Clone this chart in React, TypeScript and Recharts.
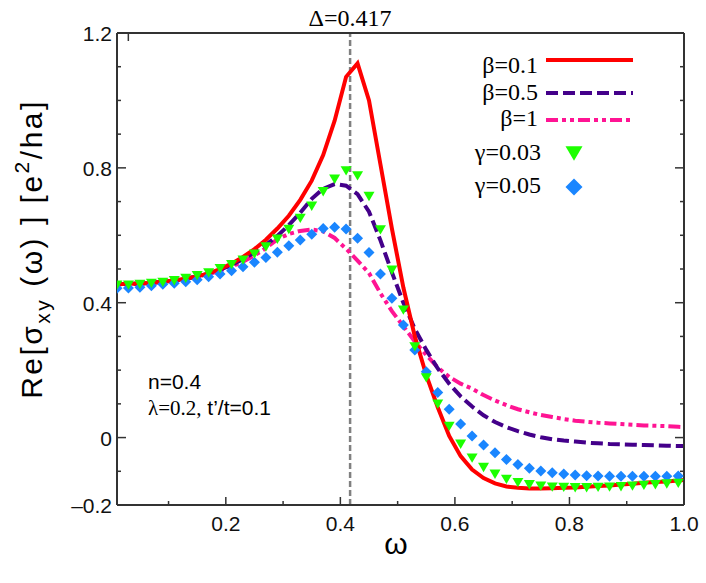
import { LineChart, Line, XAxis, YAxis, ReferenceLine } from 'recharts'

// frequency grid (markers use the first 50 points)
const OMEGA = [
  0.01, 0.03, 0.05, 0.07, 0.09, 0.11, 0.13, 0.15, 0.17, 0.19,
  0.21, 0.23, 0.25, 0.27, 0.29, 0.31, 0.33, 0.35, 0.37, 0.39,
  0.41, 0.43, 0.45, 0.47, 0.49, 0.51, 0.53, 0.55, 0.57, 0.59,
  0.61, 0.63, 0.65, 0.67, 0.69, 0.71, 0.73, 0.75, 0.77, 0.79,
  0.81, 0.83, 0.85, 0.87, 0.89, 0.91, 0.93, 0.95, 0.97, 0.99, 1.0,
]

const BETA_01 = [
  0.455, 0.456, 0.457, 0.459, 0.462, 0.466, 0.471, 0.478, 0.487, 0.5,
  0.516, 0.536, 0.559, 0.587, 0.62, 0.658, 0.705, 0.762, 0.838, 0.94,
  1.07, 1.11, 1.0, 0.81, 0.62, 0.445, 0.3, 0.185, 0.09, 0.005,
  -0.055, -0.095, -0.12, -0.136, -0.145, -0.149, -0.151, -0.151, -0.15, -0.149,
  -0.148, -0.146, -0.144, -0.142, -0.139, -0.137, -0.134, -0.132, -0.13, -0.127, -0.126,
]

const BETA_05 = [
  0.455, 0.456, 0.457, 0.459, 0.462, 0.466, 0.471, 0.478, 0.486, 0.498,
  0.512, 0.529, 0.549, 0.572, 0.598, 0.63, 0.667, 0.708, 0.738, 0.752,
  0.747, 0.722, 0.67, 0.585, 0.49, 0.4, 0.322, 0.26, 0.205, 0.16,
  0.122, 0.092, 0.066, 0.046, 0.031, 0.019, 0.009, 0.001, -0.005, -0.009,
  -0.012, -0.015, -0.017, -0.019, -0.02, -0.021, -0.022, -0.023, -0.024, -0.025, -0.025,
]

const BETA_1 = [
  0.455, 0.456, 0.457, 0.459, 0.462, 0.466, 0.471, 0.477, 0.485, 0.495,
  0.507, 0.522, 0.54, 0.562, 0.588, 0.604, 0.613, 0.617, 0.612, 0.592,
  0.56, 0.525, 0.488, 0.428, 0.375, 0.33, 0.285, 0.245, 0.208, 0.18,
  0.16, 0.145, 0.126, 0.11, 0.096, 0.084, 0.075, 0.067, 0.061, 0.055,
  0.05, 0.047, 0.044, 0.042, 0.04, 0.038, 0.036, 0.035, 0.034, 0.032, 0.031,
]

const GAMMA_003 = [
  0.453, 0.453, 0.455, 0.458, 0.461, 0.466, 0.473, 0.481, 0.489, 0.502,
  0.514, 0.527, 0.545, 0.566, 0.589, 0.618, 0.651, 0.687, 0.73, 0.767,
  0.792, 0.777, 0.716, 0.617, 0.497, 0.379, 0.27, 0.178, 0.1, 0.034,
  -0.019, -0.06, -0.088, -0.108, -0.123, -0.133, -0.139, -0.143, -0.146, -0.147,
  -0.148, -0.148, -0.147, -0.146, -0.145, -0.143, -0.141, -0.139, -0.137, -0.135,
]

const GAMMA_005 = [
  0.443, 0.444, 0.446, 0.45, 0.455, 0.458, 0.462, 0.468, 0.477, 0.485,
  0.495, 0.507, 0.52, 0.534, 0.55, 0.569, 0.586, 0.603, 0.62, 0.624,
  0.619, 0.591, 0.549, 0.485, 0.413, 0.334, 0.26, 0.195, 0.134, 0.084,
  0.04, 0.005, -0.022, -0.045, -0.065, -0.08, -0.091, -0.099, -0.104, -0.108,
  -0.111, -0.113, -0.114, -0.115, -0.115, -0.115, -0.115, -0.115, -0.115, -0.114,
]

const X_TICKS = [0.1, 0.2, 0.3, 0.4, 0.5, 0.6, 0.7, 0.8, 0.9, 1.0]
const X_LABELS = [0.2, 0.4, 0.6, 0.8, 1.0]
const Y_TICKS = [-0.2, -0.1, 0, 0.1, 0.2, 0.3, 0.4, 0.5, 0.6, 0.7, 0.8, 0.9, 1.0, 1.1, 1.2]
const Y_LABELS = [-0.2, 0, 0.4, 0.8, 1.2]

const SANS = 'Liberation Sans, Arial, Helvetica, sans-serif'
const SERIF = "'Liberation Serif', 'DejaVu Serif', 'Times New Roman', Times, serif"
const AXIS = '#333'
const RED = '#ff0000'
const PURPLE = '#44008a'
const PINK = '#ff1493'
const GREEN = '#1cff00'
const BLUE = '#1a86ff'

const rows = OMEGA.map((w, i) => ({
  w,
  b01: BETA_01[i],
  b05: BETA_05[i],
  b1: BETA_1[i],
  g003: GAMMA_003[i] ?? null,
  g005: GAMMA_005[i] ?? null,
}))

const has = (list: number[], v: number) => list.some((t) => Math.abs(t - v) < 1e-6)
const fmtY = (v: number) => (Math.abs(v) < 1e-6 ? '0' : v < 0 ? '\u2013' + Math.abs(v).toFixed(1) : v.toFixed(1))

function BottomTick({ x, y, payload }: any) {
  const major = has(X_LABELS, payload.value)
  return (
    <g>
      <line x1={x} x2={x} y1={y} y2={y - (major ? 8 : 4)} stroke={AXIS} strokeWidth={1.5} />
      {major && (
        <text x={x} y={y + 26} textAnchor="middle" fontFamily={SANS} fontSize={21} fill="#111">
          {payload.value.toFixed(1)}
        </text>
      )}
    </g>
  )
}

function TopTick({ x, y, payload }: any) {
  const major = has(X_LABELS, payload.value)
  return <line x1={x} x2={x} y1={y} y2={y + (major ? 8 : 4)} stroke={AXIS} strokeWidth={1.5} />
}

function LeftTick({ x, y, payload }: any) {
  const labelled = has(Y_LABELS, payload.value)
  const major = labelled && payload.value > -0.15
  return (
    <g>
      <line x1={x} x2={x + (major ? 9 : 4)} y1={y} y2={y} stroke={AXIS} strokeWidth={1.5} />
      {labelled && (
        <text x={x - 5} y={y + 8} textAnchor="end" fontFamily={SANS} fontSize={21} fill="#111">
          {fmtY(payload.value)}
        </text>
      )}
    </g>
  )
}

function RightTick({ x, y, payload }: any) {
  const major = has(Y_LABELS, payload.value)
  return <line x1={x} x2={x - (major ? 9 : 4)} y1={y} y2={y} stroke={AXIS} strokeWidth={1.5} />
}

function TriangleDot({ cx, cy, value, size = 5.5 }: any) {
  if (value == null || cy == null) return null
  const s = size
  return (
    <path d={`M${cx - s},${cy - s * 0.8} L${cx + s},${cy - s * 0.8} L${cx},${cy + s * 0.9} Z`} fill={GREEN} />
  )
}

function DiamondDot({ cx, cy, value, size = 5.5 }: any) {
  if (value == null || cy == null) return null
  const s = size
  return <path d={`M${cx},${cy - s} L${cx + s},${cy} L${cx},${cy + s} L${cx - s},${cy} Z`} fill={BLUE} />
}

const serifStyle = { fontFamily: SERIF, fontSize: 24 }

function LegendBox() {
  return (
    <g fill="#000" textAnchor="end">
      <text x={538} y={73} style={serifStyle}>β=0.1</text>
      <line x1={546} x2={633} y1={60} y2={60} stroke={RED} strokeWidth={4} />
      <text x={538} y={100} style={serifStyle}>β=0.5</text>
      <line x1={546} x2={633} y1={93} y2={93} stroke={PURPLE} strokeWidth={4} strokeDasharray="12 5" />
      <text x={538} y={126} style={serifStyle}>β=1</text>
      <line x1={546} x2={633} y1={120} y2={120} stroke={PINK} strokeWidth={4} strokeDasharray="12 4 4 4 4 4" />
      <text x={541} y={160} style={serifStyle}>γ=0.03</text>
      <TriangleDot cx={574} cy={153} value={1} size={8.5} />
      <text x={541} y={193} style={serifStyle}>γ=0.05</text>
      <DiamondDot cx={574} cy={187} value={1} size={8.5} />
    </g>
  )
}

export default function App() {
  return (
    <div style={{ position: 'absolute', left: 0, top: 0, width: 706, height: 583, background: '#fff' }}>
      <LineChart width={706} height={583} data={rows} margin={{ top: 0, right: 0, bottom: 0, left: 0 }}>
        <XAxis
          dataKey="w"
          type="number"
          domain={[0.01, 1]}
          allowDataOverflow
          ticks={X_TICKS}
          height={78}
          tickSize={0}
          tickMargin={0}
          tickLine={false}
          tick={<BottomTick />}
          axisLine={{ stroke: AXIS, strokeWidth: 2 }}
        />
        <XAxis
          xAxisId="top"
          orientation="top"
          type="number"
          domain={[0.01, 1]}
          allowDataOverflow
          ticks={X_TICKS}
          height={33}
          tickSize={0}
          tickMargin={0}
          tickLine={false}
          tick={<TopTick />}
          axisLine={{ stroke: AXIS, strokeWidth: 2 }}
        />
        <YAxis
          type="number"
          domain={[-0.2, 1.2]}
          allowDataOverflow
          ticks={Y_TICKS}
          width={117}
          tickSize={0}
          tickMargin={0}
          tickLine={false}
          tick={<LeftTick />}
          axisLine={{ stroke: AXIS, strokeWidth: 2 }}
        />
        <YAxis
          yAxisId="right"
          orientation="right"
          type="number"
          domain={[-0.2, 1.2]}
          allowDataOverflow
          ticks={Y_TICKS}
          width={22}
          tickSize={0}
          tickMargin={0}
          tickLine={false}
          tick={<RightTick />}
          axisLine={{ stroke: AXIS, strokeWidth: 2 }}
        />
        <ReferenceLine x={0.417} stroke="#808080" strokeWidth={2.5} strokeDasharray="6 3" />
        <Line dataKey="b1" stroke={PINK} strokeWidth={4} strokeDasharray="12 4 4 4 4 4" dot={false} activeDot={false} isAnimationActive={false} />
        <Line dataKey="b05" stroke={PURPLE} strokeWidth={4} strokeDasharray="12 5" dot={false} activeDot={false} isAnimationActive={false} />
        <Line dataKey="b01" stroke={RED} strokeWidth={4} dot={false} activeDot={false} isAnimationActive={false} />
        <Line dataKey="g005" stroke="none" dot={<DiamondDot />} activeDot={false} isAnimationActive={false} />
        <Line dataKey="g003" stroke="none" dot={<TriangleDot />} activeDot={false} isAnimationActive={false} />
        <text x={350} y={26} textAnchor="middle" fill="#000" style={serifStyle}>Δ=0.417</text>
        <LegendBox />
        <text x={148} y={389} fontFamily={SANS} fontSize={21} fill="#000">n=0.4</text>
        <text x={148} y={415} fontSize={21} fill="#000">
          <tspan style={{ fontFamily: SERIF }}>λ=0.2,</tspan>
          <tspan fontFamily={SANS}> t’/t=0.1</tspan>
        </text>
        <text
          transform="translate(42,249) rotate(-90)"
          textAnchor="middle"
          fontFamily={SANS}
          fontSize={30}
          letterSpacing={2.5}
          fill="#000"
        >
          Re[σ<tspan fontSize={21} dy={8}>xy</tspan>
          <tspan dy={-8}> (ω) ] [e</tspan>
          <tspan fontSize={21} dy={-13}>2</tspan>
          <tspan dy={13}>/ha]</tspan>
        </text>
        <text x={396} y={554} textAnchor="middle" fontFamily={SANS} fontSize={30} fill="#000">ω</text>
      </LineChart>
    </div>
  )
}
